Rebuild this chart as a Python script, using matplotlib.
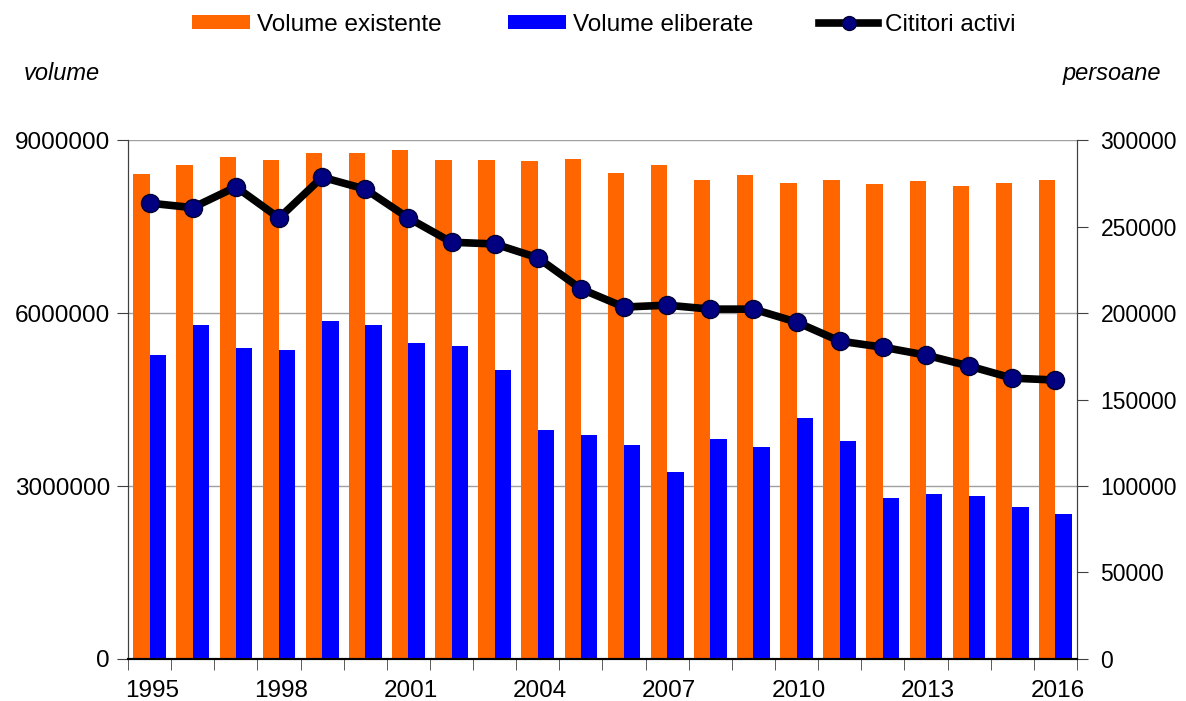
import matplotlib
matplotlib.use("Agg")
import matplotlib.pyplot as plt
import numpy as np
from matplotlib.lines import Line2D
from matplotlib.patches import Patch

plt.rcParams["font.family"] = ["Liberation Sans", "DejaVu Sans"]

years = list(range(1995, 2017))
volume_existente = [8.41e6, 8.57e6, 8.70e6, 8.65e6, 8.77e6, 8.77e6, 8.83e6, 8.65e6,
                    8.65e6, 8.64e6, 8.67e6, 8.43e6, 8.57e6, 8.31e6, 8.39e6, 8.25e6,
                    8.31e6, 8.24e6, 8.29e6, 8.20e6, 8.25e6, 8.31e6]
volume_eliberate = [5.27e6, 5.79e6, 5.39e6, 5.36e6, 5.86e6, 5.79e6, 5.48e6, 5.43e6,
                    5.01e6, 3.97e6, 3.88e6, 3.71e6, 3.24e6, 3.81e6, 3.68e6, 4.18e6,
                    3.78e6, 2.79e6, 2.86e6, 2.83e6, 2.64e6, 2.51e6]
cititori_activi = [263600, 261000, 273000, 255000, 278600, 271700, 255000, 241000,
                   240000, 232000, 214000, 203500, 204600, 202300, 202300, 194800,
                   183800, 180300, 175700, 169400, 162400, 161300]
year_labels = [1995, 1998, 2001, 2004, 2007, 2010, 2013, 2016]

fig = plt.figure(figsize=(11.86, 7.01), dpi=100)
ax = fig.add_axes([0.108, 0.060, 0.800, 0.740])
ax2 = ax.twinx()

x = np.arange(len(years))
w = 0.38
orange = "#FF6600"
blue = "#0000FF"

ax.bar(x - w / 2, volume_existente, width=w, color=orange, zorder=2)
ax.bar(x + w / 2, volume_eliberate, width=w, color=blue, zorder=2)

ax.set_xlim(-0.5, len(years) - 0.5)
ax.set_ylim(0, 9000000)
ax.set_yticks([0, 3000000, 6000000, 9000000])
ax.set_yticklabels(["0", "3000000", "6000000", "9000000"])
ax.yaxis.grid(True, color="#A0A0A0", linewidth=1, zorder=0)
ax.set_axisbelow(True)

ax.set_xticks([years.index(y) + 0.05 for y in year_labels])
ax.set_xticklabels([str(y) for y in year_labels])
ax.tick_params(axis="x", which="major", length=0, labelsize=17.5, pad=15)
ax.set_xticks(np.arange(-0.5, len(years)), minor=True)
ax.tick_params(axis="x", which="minor", length=8, direction="out", color="#404040")
ax.tick_params(axis="y", length=8, direction="out", labelsize=17.5, color="#404040", pad=5)

ax2.plot(x, cititori_activi, color="black", linewidth=5.5, marker="o",
         markersize=13, markerfacecolor="#000080", markeredgecolor="#000033",
         markeredgewidth=1, zorder=5)
ax2.set_ylim(0, 300000)
ax2.set_yticks(np.arange(0, 300001, 50000))
ax2.tick_params(axis="y", length=8, direction="out", labelsize=16.5, color="#404040", pad=9)

for a in (ax, ax2):
    a.spines["top"].set_visible(False)
    a.spines["left"].set_color("#404040")
    a.spines["right"].set_color("#404040")
    a.spines["bottom"].set_color("black")
    a.spines["bottom"].set_linewidth(1.5)

fig.text(0.020, 0.895, "volume", fontsize=17, style="italic", ha="left", va="center")
fig.text(0.979, 0.895, "persoane", fontsize=17, style="italic", ha="right", va="center")

handles = [
    Patch(facecolor=orange, label="Volume existente"),
    Patch(facecolor=blue, label="Volume eliberate"),
    Line2D([0], [0], color="black", linewidth=5.5, marker="o", markersize=10,
           markerfacecolor="#000080", markeredgecolor="#000033", label="Cititori activi"),
]
fig.legend(handles=handles, loc="center", bbox_to_anchor=(0.509, 0.965), ncol=3,
           frameon=False, fontsize=17.5, handlelength=2.4, handleheight=0.5,
           handletextpad=0.3, columnspacing=2.7)

fig.savefig("out.png", dpi=100)
